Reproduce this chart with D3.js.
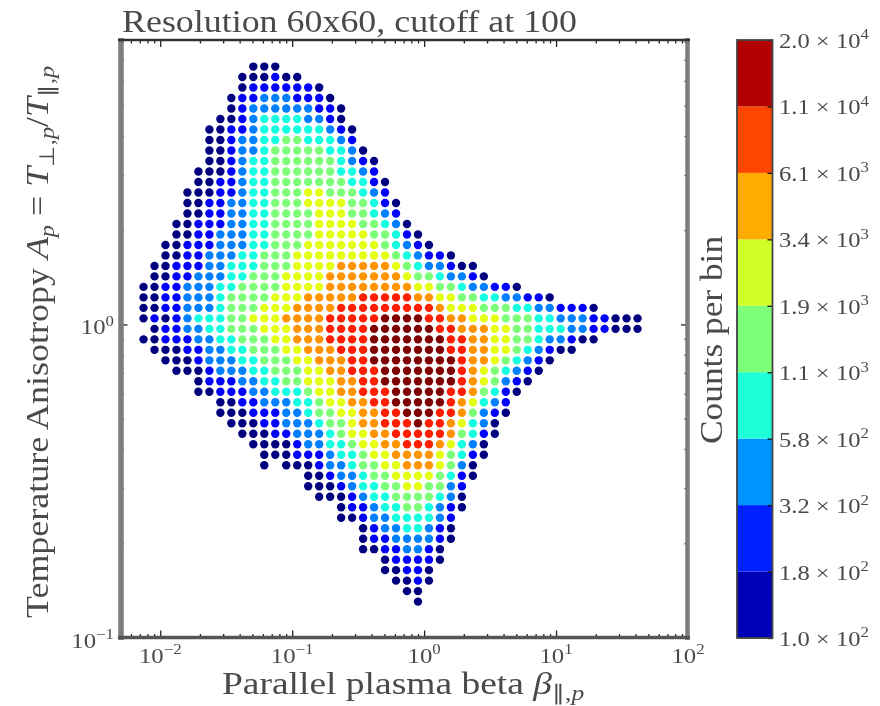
<!DOCTYPE html>
<html>
<head>
<meta charset="utf-8">
<title>Resolution 60x60</title>
<script src="https://cdn.jsdelivr.net/npm/d3@7"></script>
<style>
  html, body { margin: 0; padding: 0; background: #fff; }
  svg { display: block; filter: blur(0.7px); }
  text { font-family: "Liberation Serif", serif; fill: #4a4a4a; }
</style>
</head>
<body>
<div id="chart"></div>
<script>
// Colour band edges (counts per bin), bottom to top of the colour bar
const levels = [100, 180, 320, 580, 1100, 1900, 3400, 6100, 11000, 20000];
const levelLabels = [['1.0', '2'], ['1.8', '2'], ['3.2', '2'], ['5.8', '2'], ['1.1', '3'],
                     ['1.9', '3'], ['3.4', '3'], ['6.1', '3'], ['1.1', '4'], ['2.0', '4']];
// Typical count for a bin in each band, read from the colours
const bandCounts = [135, 240, 430, 800, 1450, 2550, 4550, 8200, 15000];
const dotColors = ['#00007f', '#0000ff', '#0080ff', '#15ffe1', '#7dff7a', '#e4ff13', '#ff9400', '#ff1e00', '#7f0000'];
const barColors = ['#0000b6', '#0020ff', '#0094ff', '#1fffd7', '#7dff7a', '#d0ff26', '#ffab00', '#ff4600', '#b20000'];

// Bin centres, in log10 of the axis values
const firstLogBeta = -2.1265;
const logBetaStep = 0.0832;
const firstLogAniso = 0.8236;
const logAnisoStep = -0.03351;

// First filled column of each row, top row first
const rowStart = [10, 9, 9, 8, 8, 7, 6, 6, 6, 6, 5, 5, 4, 4, 4, 3, 3, 2, 2, 1, 1, 0, 0, 0, 0, 1,
                  0, 1, 2, 3, 5, 5, 7, 7, 8, 9, 10, 11, 11, 15, 15, 16, 18, 18, 20, 20, 20, 22, 22, 23, 24, 25];
// Band of each bin in the row (index into bandCounts), '.' is an empty bin
const rowBands = [
  '000',
  '000100',
  '01111110',
  '0112221110',
  '01222222110',
  '001233332210',
  '00112333333210',
  '00122334433321',
  '001223444443320',
  '0012334444443210',
  '00012334444443321',
  '001123344444443310',
  '0001123344455444321',
  '00112233444555544310',
  '00112233444455544321',
  '0011122334444555544320',
  '00112223344445555544310',
  '0011122233444555555543210',
  '001122233444555555555432110',
  '001112233344455556666654322100',
  '0011222334445555666666654432210',
  '00112223344445555666666665544322110',
  '00112223444455566666777776655443322110',
  '001122234445556666777777777655544433221110',
  '0101233344555666677777888877665554443322211000',
  '011223344455566677778888887766655443332211000',
  '001112233444556667777888888877665544322100',
  '000112233444556667778888888776655432100',
  '000122233444556667788888888766543210',
  '0001222334445566777888888876543210',
  '0111223344555667788888887654210',
  '001112233345566777888887764310',
  '001122233455667788888765321',
  '000111223445566778887764210',
  '0001122234456677787765320',
  '000112223455667777764310',
  '0000122334556677765320',
  '000111233455666654310',
  '0.000122344556665420',
  '0012234455554310',
  '000123344554421',
  '00012334444320',
  '011233443210',
  '00122333321',
  '012233210',
  '011222210',
  '00112210',
  '011110',
  '00110',
  '0010',
  '00',
  '0'
];

// Axis ticks
const betaMajor = [0.01, 0.1, 1, 10, 100];
const betaMinor = [0.006, 0.007, 0.008, 0.009,
                   0.02, 0.03, 0.04, 0.05, 0.06, 0.07, 0.08, 0.09,
                   0.2, 0.3, 0.4, 0.5, 0.6, 0.7, 0.8, 0.9,
                   2, 3, 4, 5, 6, 7, 8, 9,
                   20, 30, 40, 50, 60, 70, 80, 90];
const anisoMajor = [0.1, 1];
const anisoMinor = [0.2, 0.3, 0.4, 0.5, 0.6, 0.7, 0.8, 0.9, 2, 3, 4, 5, 6, 7, 8];

const width = 880, height = 706;
const svg = d3.select('#chart').append('svg').attr('width', width).attr('height', height);

const x = d3.scaleLog().domain([0.005, 100]).range([120.5, 688]);
const y = d3.scaleLog().domain([0.1, 8.1]).range([637.5, 40]);
const color = d3.scaleThreshold().domain(levels.slice(1, -1)).range(dotColors);

// Turn the rows into one record per filled bin
const bins = [];
rowBands.forEach((row, r) => {
  row.split('').forEach((c, i) => {
    if (c === '.') return;
    const col = rowStart[r] + i;
    bins.push({
      beta: Math.pow(10, firstLogBeta + col * logBetaStep),
      aniso: Math.pow(10, firstLogAniso + r * logAnisoStep),
      count: bandCounts[+c]
    });
  });
});

svg.append('g').selectAll('circle')
    .data(bins)
  .enter().append('circle')
    .attr('cx', d => x(d.beta))
    .attr('cy', d => y(d.aniso))
    .attr('r', 4.2)
    .attr('fill', d => color(d.count));

// Writes a mix of roman, italic, sub and superscript pieces into a text element
function mathText(sel, parts, size) {
  let shift = 0;
  parts.forEach(p => {
    const rise = p.sup ? -0.42 : p.sub ? 0.2 : 0;
    const fs = p.sup || p.sub ? size * 0.68 : size;
    const target = rise * size;
    sel.append('tspan')
      .attr('dy', target - shift)
      .attr('font-size', fs)
      .attr('font-style', p.it ? 'italic' : null)
      .text(p.t);
    shift = target;
  });
}

// Minor and major ticks on all four sides, pointing inwards
function addTicks(axis, major, minor, transform) {
  [[minor, 3.5], [major, 7]].forEach(([vals, len]) => {
    const g = svg.append('g').attr('transform', transform)
      .call(axis.tickValues(vals).tickSize(len).tickFormat(''));
    g.select('.domain').remove();
    g.selectAll('line').attr('stroke', '#222').attr('stroke-width', 1.3);
  });
}
addTicks(d3.axisTop(x), betaMajor, betaMinor, 'translate(0,637.5)');
addTicks(d3.axisBottom(x), betaMajor, betaMinor, 'translate(0,40)');
addTicks(d3.axisRight(y), anisoMajor, anisoMinor, 'translate(120.5,0)');
addTicks(d3.axisLeft(y), anisoMajor, anisoMinor, 'translate(688,0)');

// Frame: the sides come out grey and heavy, the top and bottom darker
svg.append('line').attr('x1', 121).attr('x2', 121).attr('y1', 38).attr('y2', 640)
  .attr('stroke', '#7c7c7c').attr('stroke-width', 5.5);
svg.append('line').attr('x1', 687.5).attr('x2', 687.5).attr('y1', 38).attr('y2', 640)
  .attr('stroke', '#7c7c7c').attr('stroke-width', 4.5);
svg.append('line').attr('x1', 118).attr('x2', 690).attr('y1', 40).attr('y2', 40)
  .attr('stroke', '#333').attr('stroke-width', 2.5);
svg.append('line').attr('x1', 118).attr('x2', 690).attr('y1', 637.5).attr('y2', 637.5)
  .attr('stroke', '#555').attr('stroke-width', 3.5);

// Computer Modern runs wider than Liberation Serif, so the labels get stretched along their length
const exponents = { 0.01: '\u22122', 0.1: '\u22121', 1: '0', 10: '1', 100: '2' };
betaMajor.forEach(v => {
  svg.append('text').attr('transform', `translate(${x(v)},663) scale(1.18,1)`).attr('text-anchor', 'middle')
    .call(mathText, [{ t: '10' }, { t: exponents[v], sup: true }], 21);
});
anisoMajor.forEach(v => {
  svg.append('text').attr('transform', `translate(114,${y(v) + 10}) scale(1.18,1)`).attr('text-anchor', 'end')
    .call(mathText, [{ t: '10' }, { t: exponents[v], sup: true }], 21);
});

// Titles
svg.append('text').attr('x', 122).attr('y', 32).attr('font-size', 31)
  .attr('textLength', 455).attr('lengthAdjust', 'spacingAndGlyphs')
  .text('Resolution 60x60, cutoff at 100');

svg.append('text').attr('transform', 'translate(222,694) scale(1.21,1)')
  .call(mathText, [{ t: 'Parallel plasma beta ' }, { t: '\u03b2', it: true },
                   { t: '\u2225,', sub: true }, { t: 'p', sub: true, it: true }], 31);

svg.append('text').attr('transform', 'translate(48,618) rotate(-90) scale(1.16,1)')
  .call(mathText, [{ t: 'Temperature Anisotropy ' }, { t: 'A', it: true }, { t: 'p', sub: true, it: true },
                   { t: ' = ' }, { t: 'T', it: true }, { t: '\u22a5,', sub: true }, { t: 'p', sub: true, it: true },
                   { t: '/' }, { t: 'T', it: true }, { t: '\u2225,', sub: true }, { t: 'p', sub: true, it: true }], 31);

// Colour bar, one rectangle per band with evenly spaced edges
const barX0 = 737, barX1 = 772.5;
const barY = d3.scalePoint().domain(levels).range([638, 40]);

svg.append('g').selectAll('rect')
    .data(barColors)
  .enter().append('rect')
    .attr('x', barX0)
    .attr('width', barX1 - barX0)
    .attr('y', (d, i) => barY(levels[i + 1]))
    .attr('height', (d, i) => barY(levels[i]) - barY(levels[i + 1]))
    .attr('fill', d => d);

const barAxis = svg.append('g').attr('transform', `translate(${barX1},0)`)
  .call(d3.axisLeft(barY).tickSize(5).tickFormat(''));
barAxis.select('.domain').remove();
barAxis.selectAll('line').attr('stroke', '#111').attr('stroke-width', 1.3);

svg.append('rect').attr('x', barX0).attr('y', 40).attr('width', barX1 - barX0).attr('height', 598)
  .attr('fill', 'none').attr('stroke', '#444').attr('stroke-width', 1.8);

levels.forEach((v, i) => {
  svg.append('text').attr('transform', `translate(779,${barY(v) + 8}) scale(1.2,1)`)
    .call(mathText, [{ t: levelLabels[i][0] + ' \u00d7 10' }, { t: levelLabels[i][1], sup: true }], 20.5);
});

svg.append('text').attr('transform', 'translate(722,444) rotate(-90) scale(1.14,1)').attr('font-size', 31)
  .text('Counts per bin');
</script>
</body>
</html>
